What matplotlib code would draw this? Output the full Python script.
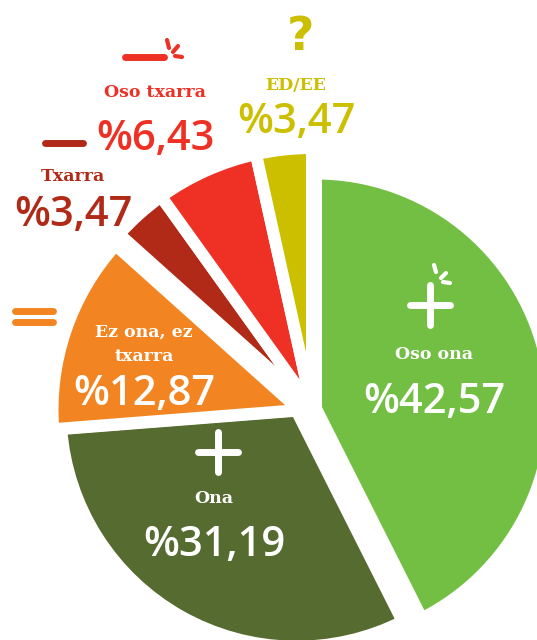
import matplotlib
matplotlib.use("Agg")
import matplotlib.pyplot as plt

# --- data -------------------------------------------------------------
categories = ["Oso ona", "Ona", "Ez ona, ez\ntxarra", "Txarra", "Oso txarra", "ED/EE"]
shares = [42.57, 31.19, 12.87, 3.47, 6.43, 3.47]
colors = ["#72bf44", "#566b2f", "#f28521", "#b02a17", "#ee3124", "#ccbf00"]

# --- layout (pixel coords, y down) -------------------------------------
W, H = 537, 640
gap = 12  # white gap between slices, px
# apex x, apex y, visible radius for each slice (slices are pulled apart by hand)
slice_pos = [(316, 408.5, 229), (296.5, 410.7, 230), (299.5, 410, 241),
             (312, 407, 253), (312, 407, 253), (312, 407, 253)]
# label placement: (x, baseline of last name line, baseline of value, text colour)
label_pos = [(434, 359, 413, "white"), (214, 503, 556, "white"),
             (144, 361, 405, "white"), (73, 181, 226, colors[3]),
             (155, 97, 150, colors[4]), (296, 90, 133, colors[5])]

fig = plt.figure(figsize=(W / 100, H / 100), dpi=100)
ax = fig.add_axes([0, 0, 1, 1])

wedges, _ = ax.pie(shares, colors=colors, startangle=90, counterclock=False,
                   center=(312, -407), radius=259,
                   wedgeprops=dict(edgecolor="white", linewidth=gap * 0.72,
                                   joinstyle="round"))
for w, (cx, cy, r) in zip(wedges, slice_pos):
  w.set_center((cx, -cy))
  w.set_radius(r + gap / 2)

ax.set_xlim(0, W)
ax.set_ylim(-H, 0)
ax.set_aspect("auto")
ax.axis("off")

name_font = dict(family="DejaVu Serif", weight="bold")
num_font = dict(family="Open Sans", weight="semibold")

for i, (name, val) in enumerate(zip(categories, shares)):
  x, yn, yv, c = label_pos[i]
  lines = name.split("\n")
  n = len(lines)
  for k, ln in enumerate(lines):
    ax.text(x, -(yn - (n - 1 - k) * 24), ln, ha="center", va="baseline",
            color=c, fontsize=12.5, **name_font)
  ax.text(x, -yv, "%" + f"{val:.2f}".replace(".", ","), ha="center",
          va="baseline", color=c, fontsize=30, **num_font)

# --- little icons -------------------------------------------------------
def stroke(pts, c, lw=5):
  xs = [p[0] for p in pts]
  ys = [-p[1] for p in pts]
  ax.plot(xs, ys, color=c, lw=lw, solid_capstyle="round")

# question mark over ED/EE
ax.text(300, -50, "?", ha="center", va="baseline", color=colors[5],
        fontsize=34, family="DejaVu Sans", weight="bold")
# very bad: dash + sparks
stroke([(125, 57), (164, 57)], colors[4])
stroke([(167, 40), (169, 48)], colors[4], 3)
stroke([(173, 52), (178, 46)], colors[4], 3)
stroke([(175, 56), (182, 57)], colors[4], 3)
# bad: dash
stroke([(45, 143), (83, 143)], colors[3])
# neutral: equals
stroke([(15, 311), (53, 311)], colors[2])
stroke([(15, 322), (53, 322)], colors[2])
# good: plus
stroke([(198, 452), (238, 452)], "white")
stroke([(218, 432), (218, 472)], "white")
# very good: plus + sparks
stroke([(410, 305), (450, 305)], "white")
stroke([(430, 285), (430, 325)], "white")
stroke([(434, 265), (436, 272)], "white", 3)
stroke([(441, 278), (446, 273)], "white", 3)
stroke([(443, 282), (450, 283)], "white", 3)

fig.savefig("out.png", dpi=100)
